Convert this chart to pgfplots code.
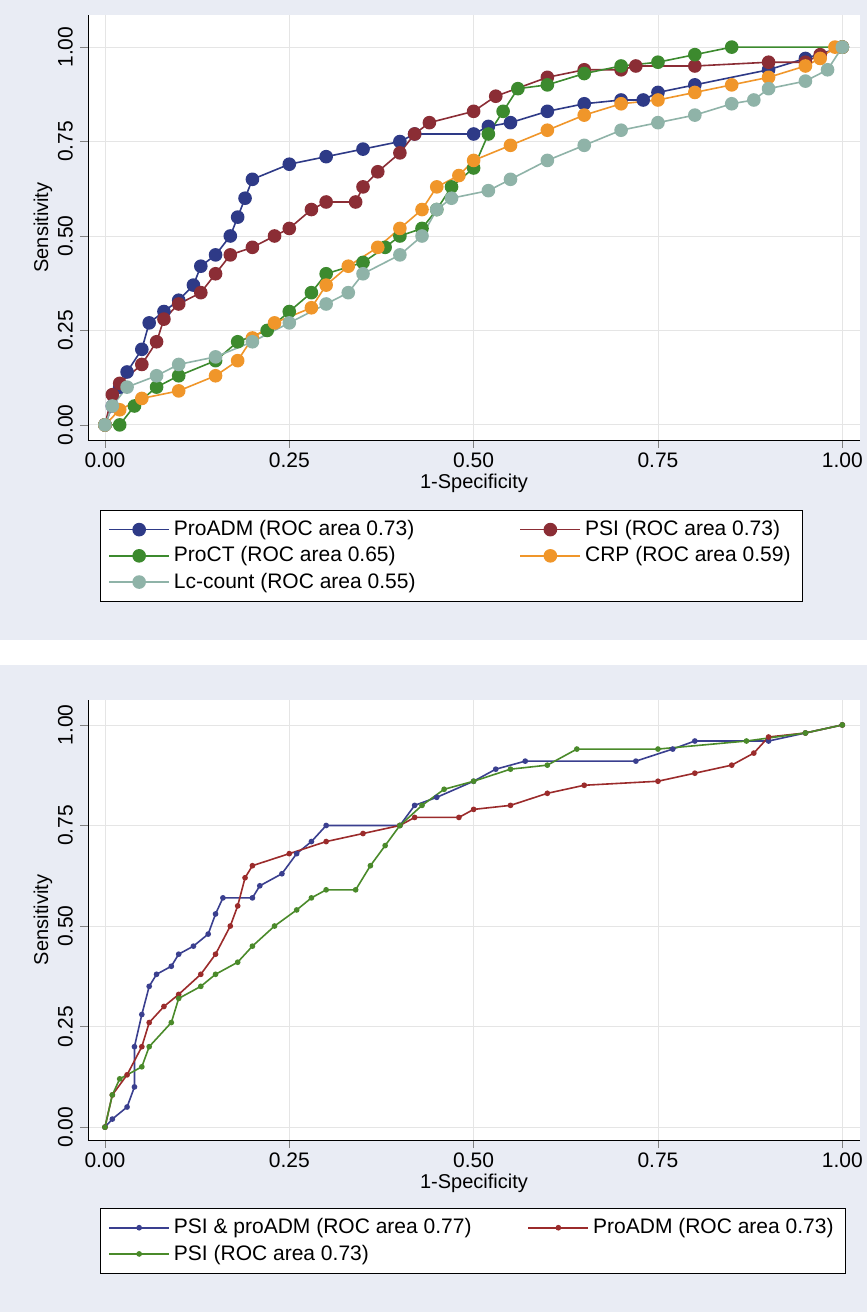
\documentclass[border=0pt]{standalone}
\usepackage{pgfplots}
\pgfplotsset{compat=1.18}
\usepackage{fontspec}
\setmainfont{Liberation Sans}
\definecolor{panel}{HTML}{E9ECF4}
\definecolor{cADM}{HTML}{2E3A87}
\definecolor{cPSI}{HTML}{8B2D35}
\definecolor{cPCT}{HTML}{3C8A2E}
\definecolor{cCRP}{HTML}{F0962A}
\definecolor{cLC}{HTML}{8FB3A8}
\definecolor{bB}{HTML}{3A3F8F}
\definecolor{bR}{HTML}{9B2B2B}
\definecolor{bG}{HTML}{4A8A2A}
\pgfplotsset{roc/.style={
  scale only axis, width=386pt, xmin=-0.023, xmax=1.024,
  axis x line*=bottom, axis y line*=left,
  axis background/.style={fill=white},
  xtick={0,0.25,0.5,0.75,1}, ytick={0,0.25,0.5,0.75,1},
  xticklabels={0.00,0.25,0.50,0.75,1.00}, yticklabels={0.00,0.25,0.50,0.75,1.00},
  yticklabel style={rotate=90},
  xticklabel style={yshift=1pt},
  tick align=outside, major tick length=4pt,
  grid=major, grid style={gray!20},
  every tick label/.style={font=\fontsize{10.5}{12}\selectfont},
  label style={font=\fontsize{10}{12}\selectfont},
  xlabel={1-Specificity}, ylabel={Sensitivity},
  xlabel style={yshift=4pt}, ylabel style={yshift=-4pt},
  legend cell align=left,
  legend style={font=\fontsize{10.5}{13}\selectfont, anchor=north west, draw=black, legend columns=2,
    inner xsep=4pt, inner ysep=3pt},
}}
\begin{document}
\begin{tikzpicture}
\fill[panel] (0,336pt) rectangle (433.5pt,656pt);
\fill[panel] (0,0) rectangle (433.5pt,323.5pt);
\useasboundingbox (0,0) rectangle (433.5pt,656pt);
\begin{axis}[roc, at={(44pt,436pt)}, height=212.5pt, ymin=-0.04, ymax=1.085,
  legend style={at={(0.0155,-0.165)}, /tikz/every even column/.append style={column sep=50pt}},
  legend image code/.code={\draw[#1] (0pt,0pt) -- (30pt,0pt); \fill[#1] (15pt,0pt) circle (3pt);}]
\addplot[cADM, thick, mark=*, mark size=3pt] coordinates {(0,0)(0.01,0.05)(0.02,0.1)(0.03,0.14)(0.05,0.2)(0.06,0.27)(0.08,0.3)(0.1,0.33)(0.12,0.37)(0.13,0.42)(0.15,0.45)(0.17,0.5)(0.18,0.55)(0.19,0.6)(0.2,0.65)(0.25,0.69)(0.3,0.71)(0.35,0.73)(0.4,0.75)(0.42,0.77)(0.5,0.77)(0.52,0.79)(0.55,0.8)(0.6,0.83)(0.65,0.85)(0.7,0.86)(0.73,0.86)(0.75,0.88)(0.8,0.9)(0.9,0.94)(0.95,0.97)(1,1)};
\addlegendentry{ProADM (ROC area 0.73)}
\addplot[cPSI, thick, mark=*, mark size=3pt] coordinates {(0,0)(0.01,0.08)(0.02,0.11)(0.05,0.16)(0.07,0.22)(0.08,0.28)(0.1,0.32)(0.13,0.35)(0.15,0.4)(0.17,0.45)(0.2,0.47)(0.23,0.5)(0.25,0.52)(0.28,0.57)(0.3,0.59)(0.34,0.59)(0.35,0.63)(0.37,0.67)(0.4,0.72)(0.42,0.77)(0.44,0.8)(0.5,0.83)(0.53,0.87)(0.6,0.92)(0.65,0.94)(0.7,0.94)(0.72,0.95)(0.8,0.95)(0.9,0.96)(0.95,0.96)(0.97,0.98)(1,1)};
\addlegendentry{PSI (ROC area 0.73)}
\addplot[cPCT, thick, mark=*, mark size=3pt] coordinates {(0,0)(0.02,0)(0.04,0.05)(0.07,0.1)(0.1,0.13)(0.15,0.17)(0.18,0.22)(0.22,0.25)(0.25,0.3)(0.28,0.35)(0.3,0.4)(0.35,0.43)(0.38,0.47)(0.4,0.5)(0.43,0.52)(0.45,0.57)(0.47,0.63)(0.5,0.68)(0.52,0.77)(0.54,0.83)(0.56,0.89)(0.6,0.9)(0.65,0.93)(0.7,0.95)(0.75,0.96)(0.8,0.98)(0.85,1)(1,1)};
\addlegendentry{ProCT (ROC area 0.65)}
\addplot[cCRP, thick, mark=*, mark size=3pt] coordinates {(0,0)(0.02,0.04)(0.05,0.07)(0.1,0.09)(0.15,0.13)(0.18,0.17)(0.2,0.23)(0.23,0.27)(0.28,0.31)(0.3,0.37)(0.33,0.42)(0.37,0.47)(0.4,0.52)(0.43,0.57)(0.45,0.63)(0.48,0.66)(0.5,0.7)(0.55,0.74)(0.6,0.78)(0.65,0.82)(0.7,0.85)(0.75,0.86)(0.8,0.88)(0.85,0.9)(0.9,0.92)(0.95,0.95)(0.97,0.97)(0.99,1)(1,1)};
\addlegendentry{CRP (ROC area 0.59)}
\addplot[cLC, thick, mark=*, mark size=3pt] coordinates {(0,0)(0.01,0.05)(0.03,0.1)(0.07,0.13)(0.1,0.16)(0.15,0.18)(0.2,0.22)(0.25,0.27)(0.3,0.32)(0.33,0.35)(0.35,0.4)(0.4,0.45)(0.43,0.5)(0.45,0.57)(0.47,0.6)(0.52,0.62)(0.55,0.65)(0.6,0.7)(0.65,0.74)(0.7,0.78)(0.75,0.8)(0.8,0.82)(0.85,0.85)(0.88,0.86)(0.9,0.89)(0.95,0.91)(0.98,0.94)(1,1)};
\addlegendentry{Lc-count (ROC area 0.55)}
\end{axis}
\begin{axis}[roc, at={(44pt,86pt)}, height=220pt, ymin=-0.032, ymax=1.062,
  legend style={at={(0.0155,-0.155)}, /tikz/every even column/.append style={column sep=26pt}},
  legend image code/.code={\draw[#1] (0pt,0pt) -- (30pt,0pt); \fill[#1] (15pt,0pt) circle (1pt);}]
\addplot[bB, thick, mark=*, mark size=1pt] coordinates {(0,0)(0.01,0.02)(0.03,0.05)(0.04,0.1)(0.04,0.2)(0.05,0.28)(0.06,0.35)(0.07,0.38)(0.09,0.4)(0.1,0.43)(0.12,0.45)(0.14,0.48)(0.15,0.53)(0.16,0.57)(0.2,0.57)(0.21,0.6)(0.24,0.63)(0.26,0.68)(0.28,0.71)(0.3,0.75)(0.4,0.75)(0.42,0.8)(0.45,0.82)(0.5,0.86)(0.53,0.89)(0.57,0.91)(0.72,0.91)(0.77,0.94)(0.8,0.96)(0.9,0.96)(0.95,0.98)(1,1)};
\addlegendentry{PSI \& proADM (ROC area 0.77)}
\addplot[bR, thick, mark=*, mark size=1pt] coordinates {(0,0)(0.01,0.08)(0.03,0.13)(0.05,0.2)(0.06,0.26)(0.08,0.3)(0.1,0.33)(0.13,0.38)(0.15,0.43)(0.17,0.5)(0.18,0.55)(0.19,0.62)(0.2,0.65)(0.25,0.68)(0.3,0.71)(0.35,0.73)(0.4,0.75)(0.42,0.77)(0.48,0.77)(0.5,0.79)(0.55,0.8)(0.6,0.83)(0.65,0.85)(0.75,0.86)(0.8,0.88)(0.85,0.9)(0.88,0.93)(0.9,0.97)(0.95,0.98)(1,1)};
\addlegendentry{ProADM (ROC area 0.73)}
\addplot[bG, thick, mark=*, mark size=1pt] coordinates {(0,0)(0.01,0.08)(0.02,0.12)(0.05,0.15)(0.06,0.2)(0.09,0.26)(0.1,0.32)(0.13,0.35)(0.15,0.38)(0.18,0.41)(0.2,0.45)(0.23,0.5)(0.26,0.54)(0.28,0.57)(0.3,0.59)(0.34,0.59)(0.36,0.65)(0.38,0.7)(0.4,0.75)(0.43,0.8)(0.46,0.84)(0.5,0.86)(0.55,0.89)(0.6,0.9)(0.64,0.94)(0.75,0.94)(0.87,0.96)(0.95,0.98)(1,1)};
\addlegendentry{PSI (ROC area 0.73)}
\end{axis}
\end{tikzpicture}
\end{document}
